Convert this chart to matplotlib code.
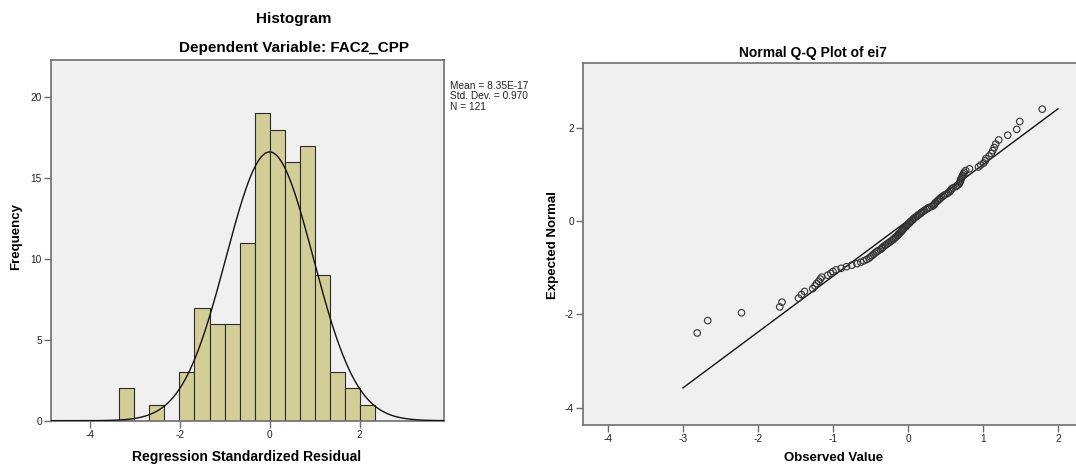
import numpy as np
import matplotlib
matplotlib.use("Agg")
import matplotlib.pyplot as plt
from statistics import NormalDist

plt.rcParams['font.family'] = ['Liberation Sans', 'DejaVu Sans']
plt.rcParams['axes.unicode_minus'] = False

# ---------------- data: histogram ----------------
hist_counts = [2, 0, 1, 0, 3, 7, 6, 6, 11, 19, 18, 16, 17, 9, 3, 2, 1]
bin_width = 0.334
first_bin_index = -10
stat_mean = 8.35e-17
stat_sd = 0.970
stat_n = 121
hist_xticks = [-4, -2, 0, 2]
hist_yticks = [0, 5, 10, 15, 20]

# ---------------- data: Q-Q plot (observed values, sorted) ----------------
observed = [
    -2.81, -2.67, -2.22, -1.71, -1.68, -1.46, -1.42, -1.38, -1.27, -1.24,
    -1.22, -1.19, -1.17, -1.15, -1.07, -1.03, -1.00, -0.96, -0.89, -0.82,
    -0.75, -0.68, -0.63, -0.59, -0.55, -0.52, -0.50, -0.48, -0.46, -0.44,
    -0.42, -0.40, -0.37, -0.35, -0.34, -0.32, -0.30, -0.28, -0.26, -0.24,
    -0.22, -0.20, -0.19, -0.17, -0.16, -0.14, -0.13, -0.12, -0.105, -0.09,
    -0.08, -0.07, -0.06, -0.05, -0.03, -0.02, -0.01, 0.00, 0.02, 0.03,
    0.04, 0.06, 0.07, 0.08, 0.10, 0.12, 0.13, 0.15, 0.17, 0.18,
    0.20, 0.22, 0.24, 0.26, 0.28, 0.32, 0.34, 0.35, 0.36, 0.37,
    0.39, 0.40, 0.42, 0.43, 0.45, 0.47, 0.49, 0.52, 0.54, 0.56,
    0.57, 0.58, 0.60, 0.64, 0.66, 0.68, 0.69, 0.70, 0.70, 0.71,
    0.72, 0.73, 0.74, 0.75, 0.77, 0.82, 0.94, 0.97, 1.01, 1.03,
    1.04, 1.08, 1.11, 1.13, 1.15, 1.17, 1.21, 1.33, 1.45, 1.49,
    1.79,
]
qq_line_range = [-3.0, 2.0]
qq_xticks = [-4, -3, -2, -1, 0, 1, 2]
qq_yticks = [-4, -2, 0, 2]

# ---------------- figure ----------------
W, H = 1076, 466
fig = plt.figure(figsize=(W / 100, H / 100), dpi=100)
fig.patch.set_facecolor('white')

def fbox(l, t, r, b):
    return [l / W, 1 - b / H, (r - l) / W, (b - t) / H]

spine_col = '#6e6e6e'
bg = '#f0f0f0'
tick_kw = dict(direction='out', length=5, width=1.0, color=spine_col,
               labelsize=7.3, labelcolor='#222222')

# ---- histogram ----
ax1 = fig.add_axes(fbox(51, 60.3, 443.7, 420.7))
ax1.set_facecolor(bg)
edges = (np.arange(len(hist_counts) + 1) + first_bin_index) * bin_width
ax1.bar(edges[:-1], hist_counts, width=bin_width, align='edge',
        color='#d3ce97', edgecolor='#2b2b2b', linewidth=0.8, zorder=2)
xs = np.linspace(-4.86, 3.87, 600)
curve = stat_n * bin_width * np.array([NormalDist(stat_mean, stat_sd).pdf(v) for v in xs])
ax1.plot(xs, curve, color='#111111', linewidth=1.0, zorder=3)
ax1.set_xlim(-4.86, 3.87)
ax1.set_ylim(0, 22.29)
ax1.set_xticks(hist_xticks)
ax1.set_yticks(hist_yticks)
ax1.tick_params(axis='both', pad=1.5, **tick_kw)
for s in ax1.spines.values():
    s.set_color(spine_col)
    s.set_linewidth(1.2)

fig.text(294 / W, 1 - 19.3 / H, 'Histogram', ha='center', va='center',
         fontsize=11, fontweight='bold')
fig.text(294 / W, 1 - 48 / H, 'Dependent Variable: FAC2_CPP', ha='center',
         va='center', fontsize=11, fontweight='bold')
fig.text(16 / W, 1 - 236 / H, 'Frequency', rotation=90, ha='center',
         va='center', fontsize=9.5, fontweight='bold')
fig.text(247 / W, 1 - 456.7 / H, 'Regression Standardized Residual',
         ha='center', va='center', fontsize=10, fontweight='bold')
stats_lines = ['Mean = %.2E' % stat_mean, 'Std. Dev. = %.3f' % stat_sd,
               'N = %d' % stat_n]
for k, line in enumerate(stats_lines):
    fig.text(450 / W, 1 - (85.7 + 10.5 * k) / H, line, ha='left',
             va='center', fontsize=7.3, color='#222222')

# ---- Q-Q plot ----
ax2 = fig.add_axes(fbox(583, 63, 1085, 425.3))
ax2.set_facecolor(bg)
n = len(observed)
expected = [NormalDist().inv_cdf((i + 1) / (n + 1)) for i in range(n)]
obs = np.array(observed)
m, sd = obs.mean(), obs.std(ddof=1)
lx = np.array(qq_line_range)
ax2.plot(lx, (lx - m) / sd, color='#111111', linewidth=1.0, zorder=2)
ax2.scatter(observed, expected, s=22, facecolors='none',
            edgecolors='#333333', linewidths=0.8, zorder=3)
ax2.set_xlim(-4.333, 2.36)
ax2.set_ylim(-4.38, 3.39)
ax2.set_xticks(qq_xticks)
ax2.set_yticks(qq_yticks)
ax2.tick_params(axis='both', pad=1.5, **tick_kw)
for s in ax2.spines.values():
    s.set_color(spine_col)
    s.set_linewidth(1.2)

fig.text(812.8 / W, 1 - 52.7 / H, 'Normal Q-Q Plot of ei7', ha='center',
         va='center', fontsize=10, fontweight='bold')
fig.text(552.7 / W, 1 - 245 / H, 'Expected Normal', rotation=90,
         ha='center', va='center', fontsize=9.5, fontweight='bold')
fig.text(834 / W, 1 - 458 / H, 'Observed Value', ha='center', va='center',
         fontsize=9.5, fontweight='bold')

fig.savefig('out.png', dpi=100)
